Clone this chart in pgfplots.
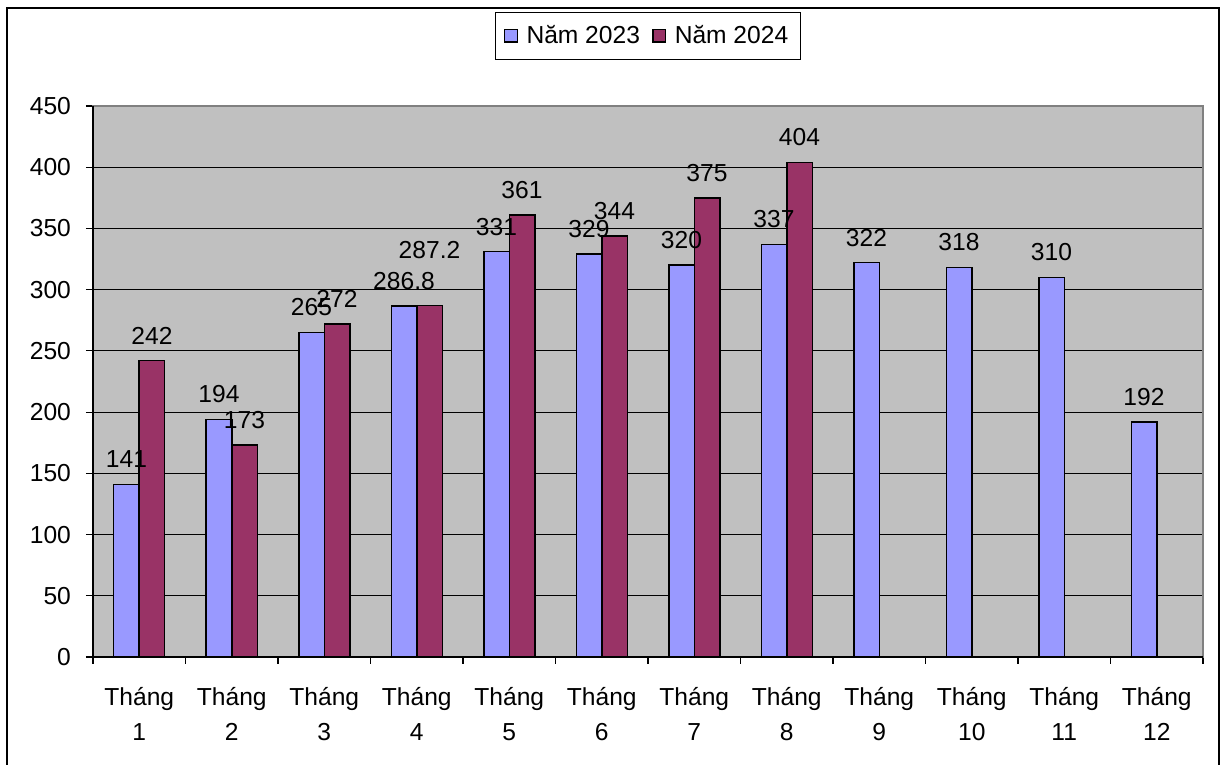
\documentclass[border=0pt]{standalone}
\usepackage{fontspec}
\setmainfont{Liberation Sans}
\usepackage{pgfplots}
\pgfplotsset{compat=1.18}

\definecolor{xanh}{HTML}{9999FF}
\definecolor{tim}{HTML}{993366}
\definecolor{nen}{HTML}{C0C0C0}

\newcommand{\chu}{\fontsize{12.3}{17.5}\selectfont}
\pgfplotsset{vuong/.style={legend image code/.code={%
    \draw[##1] (0pt,-3.2pt) rectangle (6.4pt,3.2pt);
    \path[draw=none, fill=none] (0pt,0pt) -- (9pt,0pt);}}}

\begin{document}
\begin{tikzpicture}
\path[use as bounding box] (0pt,0pt) rectangle (611pt,382.5pt);
% khung ngoai
\draw[line width=1pt] (3.5pt,-5pt) -- (3.5pt,378.5pt) -- (609.5pt,378.5pt) -- (609.5pt,-5pt);
\begin{axis}[
    at={(46.5pt,54pt)}, anchor=south west,
    scale only axis,
    width=555pt, height=275.5pt,
    ybar=0pt, bar width=12.75pt,
    xmin=0.5, xmax=12.5,
    ymin=0, ymax=450,
    xtick={1,...,12},
    xticklabels={{Tháng\\1},{Tháng\\2},{Tháng\\3},{Tháng\\4},{Tháng\\5},{Tháng\\6},
                 {Tháng\\7},{Tháng\\8},{Tháng\\9},{Tháng\\10},{Tháng\\11},{Tháng\\12}},
    minor xtick={0.5,1.5,...,12.5},
    ytick={0,50,...,450},
    tick pos=left,
    tick align=outside,
    major tick length=3.5pt, minor tick length=3.5pt,
    major x tick style={draw=none},
    tick style={black, line width=0.6pt},
    ymajorgrids,
    grid style={black, line width=0.5pt},
    axis background/.style={fill=nen},
    axis line style={draw=gray, line width=0.6pt},
    xticklabel style={align=center, font=\chu, yshift=-8pt},
    yticklabel style={font=\chu, xshift=-4pt},
    /pgf/number format/assume math mode=true,
    nodes near coords,
    visualization depends on={\thisrow{dy} \as \dy},
    every node near coord/.append style={font=\chu, text=black, yshift=4.5pt+\dy},
    clip=false,
    legend columns=2,
    legend style={at={(0.5,1)}, anchor=south, yshift=23pt,
        draw=black, line width=0.6pt, font=\chu,
        inner xsep=4pt, inner ysep=4.5pt,
        /tikz/every even column/.append style={column sep=4pt}},
]
\addplot[fill=xanh, draw=black, line width=0.75pt, vuong]
    table {
    x  y     dy
    1  141   0
    2  194   0
    3  265   0
    4  286.8 0
    5  331   0
    6  329   0
    7  320   0
    8  337   0
    9  322   0
    10 318   0
    11 310   0
    12 192   0
    };
\addplot[fill=tim, draw=black, line width=0.75pt, vuong]
    table {
    x  y     dy
    1  242   0
    2  173   0
    3  272   0
    4  287.2 15
    5  361   0
    6  344   0
    7  375   0
    8  404   0
    };
\legend{Năm 2023, Năm 2024}
\draw[black, line width=0.6pt] (rel axis cs:0,1) -- (rel axis cs:0,0) -- (rel axis cs:1,0);
\end{axis}
\end{tikzpicture}
\end{document}
